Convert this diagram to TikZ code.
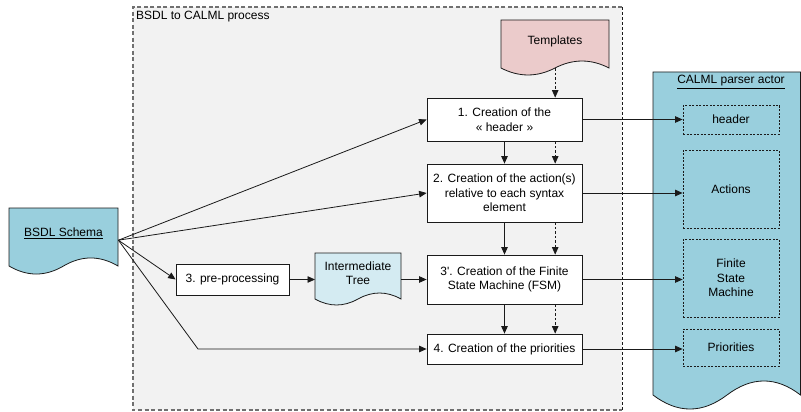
\documentclass[tikz,border=0pt]{standalone}
\usepackage{fontspec}
\setmainfont{Liberation Sans}
\usetikzlibrary{arrows.meta}
\definecolor{procfill}{HTML}{F2F2F2}
\definecolor{procline}{HTML}{707070}
\definecolor{actorfill}{HTML}{99CFDD}
\definecolor{treefill}{HTML}{D4EBF2}
\definecolor{tmplfill}{HTML}{EBCBCB}
\definecolor{edge}{HTML}{1A1A1A}
\tikzset{
  stepbox/.style={draw=edge, line width=0.8pt, fill=white, align=center, inner sep=2pt, minimum width=155pt},
  partbox/.style={draw=edge, line width=0.8pt, dash pattern=on 2pt off 1.5pt, align=center, minimum width=96pt, inner sep=2pt},
  docshape/.style={draw=edge, line width=0.8pt},
  area/.style={inner sep=0pt, anchor=north west},
  conn/.style={draw=edge, line width=0.8pt, -{Triangle[length=7.5pt,width=6.5pt]}},
  dconn/.style={conn, dash pattern=on 2.5pt off 2pt},
}
\begin{document}
\begin{tikzpicture}[x=1pt, y=-1pt, font=\fontsize{12}{14.5}\selectfont]
\useasboundingbox (0,0) rectangle (801,412);
% process area
\fill[procfill] (133,7) rectangle (622,410);
\draw[procline, line width=1.2pt, dash pattern=on 4pt off 2.5pt] (622,7) -- (133,7) -- (133,410) -- (622,410);
\draw[edge, line width=0.9pt, dash pattern=on 3pt off 2pt] (622,7) -- (622,410);
\node[anchor=west, inner sep=0pt] (ptitle) at (136,17) {BSDL to CALML process};
% actor
\draw[docshape, fill=actorfill] (653,72) -- (800.5,72) -- (800.5,395) .. controls (776.3,376.3) and (751.7,376.3) .. (727,395) .. controls (702.3,413.7) and (677.7,413.7) .. (653,395) -- cycle;
\node[inner sep=0pt] (atitle) at (731,82) {\underline{CALML parser actor}};
% BSDL schema
\draw[docshape, fill=actorfill] (9,208) -- (118,208) -- (118,266) .. controls (99.8,255.3) and (81.7,255.3) .. (63.5,266) .. controls (45.3,276.7) and (27.2,276.7) .. (9,266) -- cycle;
\node[area, minimum width=109pt, minimum height=58pt] (bsdl) at (9,208) {};
\node[inner sep=0pt] (bsdltext) at (63.5,233) {\underline{BSDL Schema}};
\coordinate (bsout) at ([yshift=-3pt]bsdl.east);
% Templates
\draw[docshape, fill=tmplfill] (501,20) -- (609,20) -- (609,68) .. controls (591,58.7) and (573,58.7) .. (555,68) .. controls (537,77.3) and (519,77.3) .. (501,68) -- cycle;
\node[area, minimum width=108pt, minimum height=48pt] (tmpl) at (501,20) {};
\node[inner sep=0pt] (tmpltext) at (555,41) {Templates};
% Intermediate tree
\draw[docshape, fill=treefill] (315,253) -- (401,253) -- (401,299) .. controls (386.7,291) and (372.3,291) .. (358,299) .. controls (343.7,307) and (329.3,307) .. (315,299) -- cycle;
\node[area, minimum width=86pt, minimum height=46pt] (itree) at (315,253) {};
\node[align=center, inner sep=0pt] (itreetext) at (358,273) {Intermediate\\Tree};
% steps
\node[stepbox, minimum height=43pt] (s1) at (504.5,119.5) {1. Creation of the\\« header »};
\node[stepbox, minimum height=58pt] (s2) at (504.5,193) {2. Creation of the action(s)\\relative to each syntax\\element};
\node[stepbox, minimum height=49pt] (s3) at (504.5,279.5) {3\textquotesingle. Creation of the Finite\\State Machine (FSM)};
\node[stepbox, minimum height=30pt] (s4) at (504.5,349) {4. Creation of the priorities};
\node[stepbox, minimum width=113pt, minimum height=31pt] (pre) at (232.5,279.5) {3. pre-processing};
% parts
\node[partbox, minimum height=29pt] (p1) at (731,119.5) {header};
\node[partbox, minimum height=78pt] (p2) at (731,189) {Actions};
\node[partbox, minimum height=78pt] (p3) at (731,278) {Finite\\State\\Machine};
\node[partbox, minimum height=37pt] (p4) at (731,347.5) {Priorities};
% connectors from BSDL
\draw[conn] (bsout) -- (s1.west);
\draw[conn] (bsout) -- (s2.west);
\draw[conn] (bsout) -- (pre.west);
\coordinate (bend) at (198,349);
\draw[conn] (bsout) -- (bend) -- (s4.west);
\draw[conn] (pre.east) -- (pre.east -| itree.west);
\draw[conn] (s3.west -| itree.east) -- (s3.west);
% vertical
\draw[dconn] (tmpl.south) -- (s1.north -| tmpl.south);
\draw[conn] (s1.south) -- (s2.north);
\draw[conn] (s2.south) -- (s3.north);
\draw[conn] (s3.south) -- (s4.north);
\draw[dconn] (s1.south -| tmpl.south) -- (s2.north -| tmpl.south);
\draw[dconn] (s2.south -| tmpl.south) -- (s3.north -| tmpl.south);
\draw[dconn] (s3.south -| tmpl.south) -- (s4.north -| tmpl.south);
% to parts
\draw[conn] (s1.east) -- (s1.east -| p1.west);
\draw[conn] (s2.east) -- (s2.east -| p2.west);
\draw[conn] (s3.east) -- (s3.east -| p3.west);
\draw[conn] (s4.east) -- (s4.east -| p4.west);
\end{tikzpicture}
\end{document}
